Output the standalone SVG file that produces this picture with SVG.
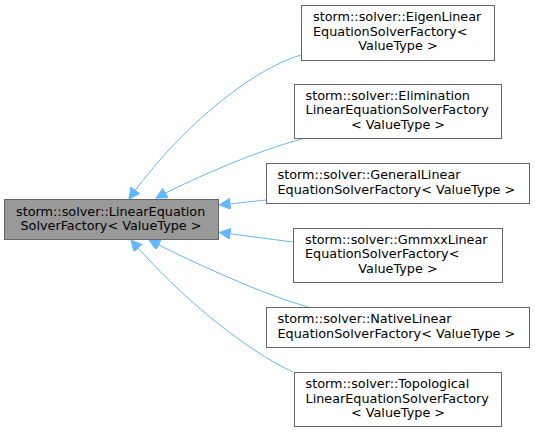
<svg xmlns="http://www.w3.org/2000/svg" width="535" height="432" viewBox="0 0 535 432">
<style>
.box{fill:#ffffff;stroke:#666666;stroke-width:1}
.main{fill:#999999;stroke:#666666;stroke-width:1}
text{font-family:"DejaVu Sans",sans-serif;font-size:12.8px;fill:#000000}
.c{text-anchor:middle}
.edge{fill:none;stroke:#63b8ff;stroke-width:1}
</style>
<defs>
<marker id="arr" markerUnits="userSpaceOnUse" markerWidth="12" markerHeight="12" viewBox="0 0 12 12" refX="11" refY="5.5" orient="auto">
<path d="M0,0 L11,5.5 L0,11 Z" fill="#63b8ff" stroke="#63b8ff" stroke-width="1"/>
</marker>
</defs>
<rect width="535" height="432" fill="#ffffff"/>
<g id="edges">
<path class="edge" marker-end="url(#arr)" d="M301,55 C250,70 178,130 129,199"/>
<path class="edge" marker-end="url(#arr)" d="M302,139 C260,150 200,175 156,198"/>
<path class="edge" marker-end="url(#arr)" d="M266,200 L219.5,205"/>
<path class="edge" marker-end="url(#arr)" d="M293,242 L219.5,232.5"/>
<path class="edge" marker-end="url(#arr)" d="M308,307 C265,295 198,265 149,240"/>
<path class="edge" marker-end="url(#arr)" d="M293,372 C245,350 178,295 131,240"/>
</g>
<g id="main">
<rect class="main" x="4.5" y="199.5" width="214" height="40"/>
<text x="16" y="215.5">storm::solver::LinearEquation</text>
<text class="c" x="111" y="229.5">SolverFactory&lt; ValueType &gt;</text>
</g>
<g id="eigen">
<rect class="box" x="301.5" y="5.5" width="193" height="55"/>
<text x="313" y="21">storm::solver::EigenLinear</text>
<text x="313" y="35.5">EquationSolverFactory&lt;</text>
<text class="c" x="398" y="50">ValueType &gt;</text>
</g>
<g id="elimination">
<rect class="box" x="294.5" y="84.5" width="207" height="54"/>
<text x="305.5" y="99.5">storm::solver::Elimination</text>
<text x="305.5" y="114">LinearEquationSolverFactory</text>
<text class="c" x="398" y="128.5">&lt; ValueType &gt;</text>
</g>
<g id="general">
<rect class="box" x="266.5" y="163.5" width="263" height="40"/>
<text x="277.5" y="179">storm::solver::GeneralLinear</text>
<text x="277.5" y="193.5">EquationSolverFactory&lt; ValueType &gt;</text>
</g>
<g id="gmmxx">
<rect class="box" x="293.5" y="228.5" width="209" height="54"/>
<text x="305" y="243.5">storm::solver::GmmxxLinear</text>
<text x="305" y="258">EquationSolverFactory&lt;</text>
<text class="c" x="398" y="272.5">ValueType &gt;</text>
</g>
<g id="native">
<rect class="box" x="266.5" y="307.5" width="263" height="40"/>
<text x="277.5" y="323">storm::solver::NativeLinear</text>
<text x="277.5" y="337.5">EquationSolverFactory&lt; ValueType &gt;</text>
</g>
<g id="topological">
<rect class="box" x="294.5" y="372.5" width="207" height="54"/>
<text x="305.5" y="388">storm::solver::Topological</text>
<text x="305.5" y="402.5">LinearEquationSolverFactory</text>
<text class="c" x="398" y="417">&lt; ValueType &gt;</text>
</g>
</svg>
